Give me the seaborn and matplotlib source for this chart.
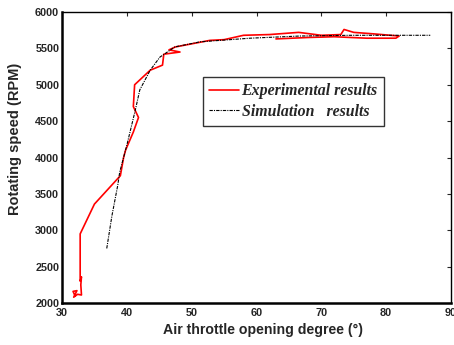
import matplotlib
matplotlib.use("Agg")
import matplotlib.pyplot as plt
import seaborn as sns
import pandas as pd
import numpy as np

# Experimental results (red)
exp_x = [32.0, 31.7, 32.3, 31.8, 32.4, 33.0, 32.9, 33.0, 32.8, 32.8, 35.0, 39.0, 39.5, 39.8,
         41.0, 41.8, 41.0, 41.2, 43.6, 45.5, 45.7, 48.2, 46.5, 47.5, 52.8, 55.0, 58.0,
         62.0, 66.5, 70.0, 73.0, 73.5, 75.0, 78.0, 82.0, 81.5, 77.0, 72.0, 68.0, 63.0]
exp_y = [2100, 2160, 2170, 2080, 2120, 2110, 2250, 2360, 2300, 2950, 3360, 3750, 4000, 4100,
         4350, 4550, 4700, 5000, 5200, 5270, 5420, 5450, 5480, 5520, 5610, 5620, 5680,
         5690, 5720, 5680, 5690, 5760, 5720, 5700, 5670, 5640, 5640, 5660, 5650, 5630]

# Simulation results (black)
sim_x = [36.9, 37.7, 38.6, 38.9, 40.0, 41.3, 42.0, 43.6, 45.1, 47.4, 51.3, 59.0, 66.7, 74.4, 86.8]
sim_y = [2750, 3200, 3620, 3800, 4170, 4650, 4930, 5200, 5380, 5520, 5590, 5640, 5670, 5680, 5680]

df_exp = pd.DataFrame({"x": exp_x, "y": exp_y})
df_sim = pd.DataFrame({"x": sim_x, "y": sim_y})

sns.set_style("white")
plt.rcParams['font.family'] = ['Liberation Sans', 'DejaVu Sans']

fig = plt.figure(figsize=(4.54, 3.45), dpi=100)
ax = fig.add_axes([0.1366, 0.1217, 0.8568, 0.8435])

sns.lineplot(data=df_exp, x="x", y="y", sort=False, estimator=None, color="#ff0000",
             linewidth=1.2, ax=ax, label="Experimental results")
sns.lineplot(data=df_sim, x="x", y="y", sort=False, estimator=None, color="black",
             linewidth=0.8, ax=ax, label="Simulation   results")
ax.lines[1].set_dashes([3, 1, 1, 1])

ax.set_xlim(30, 90)
ax.set_ylim(2000, 6000)
ax.set_xticks(np.arange(30, 91, 10))
ax.set_yticks(np.arange(2000, 6001, 500))
ax.tick_params(direction="in", length=3, width=0.8, top=True, right=True,
               labelsize=7.8, pad=2)
ax.tick_params(axis="x", pad=3.5)
for lab in ax.get_xticklabels() + ax.get_yticklabels():
    lab.set_fontweight("bold")

for s in ["left", "bottom"]:
    ax.spines[s].set_linewidth(1.8)
for s in ["top", "right"]:
    ax.spines[s].set_linewidth(1.0)
for s in ax.spines.values():
    s.set_color("black")

ax.set_xlabel("Air throttle opening degree (°)", fontsize=10.2, fontweight="bold")
ax.set_ylabel("Rotating speed (RPM)", fontsize=10.5, fontweight="bold")
ax.xaxis.set_label_coords(0.517, -0.068)
ax.yaxis.set_label_coords(-0.103, 0.564)

leg = ax.legend(loc="upper left", bbox_to_anchor=(0.362, 0.777),
                prop={"family": "Liberation Serif", "weight": "bold", "style": "italic", "size": 11.4},
                frameon=True, fancybox=False, edgecolor="black", handlelength=1.9,
                handletextpad=0.15, borderpad=0.4, labelspacing=0.3, borderaxespad=0)
leg.get_frame().set_linewidth(1.0)

fig.savefig("out.png", dpi=100)
